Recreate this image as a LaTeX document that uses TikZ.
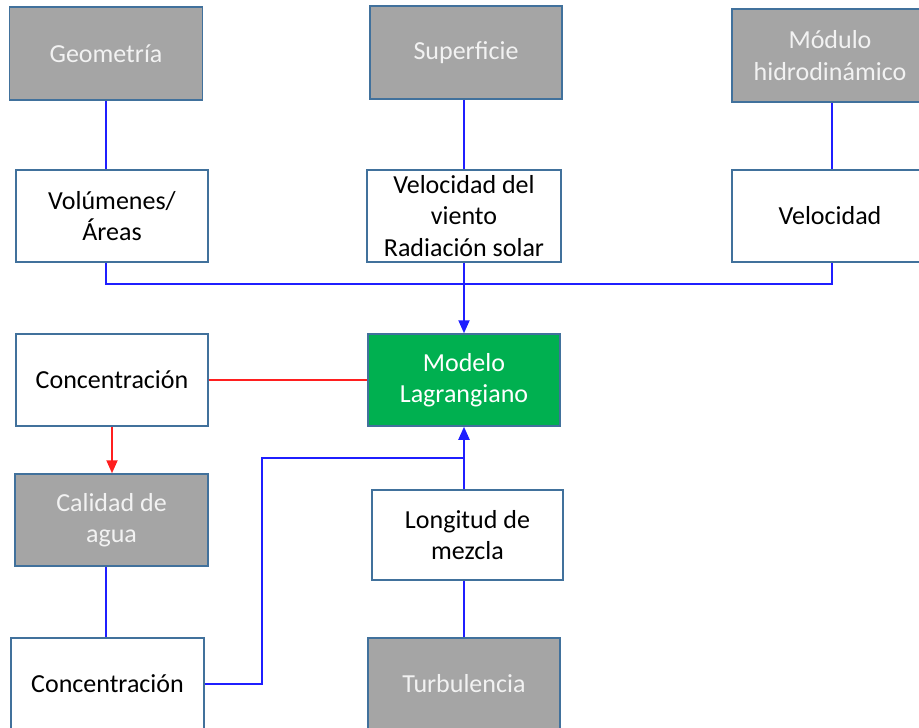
\documentclass[tikz,border=0pt]{standalone}
\usepackage{fontspec}
\setmainfont{Carlito}
\usetikzlibrary{arrows.meta}
\definecolor{cajagris}{HTML}{A5A5A5}
\definecolor{borde}{HTML}{41719C}
\definecolor{verde}{HTML}{00B050}
\definecolor{azul}{HTML}{1F1FFF}
\definecolor{rojo}{HTML}{FF1F1F}
\begin{document}
\begin{tikzpicture}[x=1pt,y=-1pt,
caja/.style={draw=borde, line width=1.5pt, minimum width=192pt, minimum height=92pt, align=center, inner sep=0pt, font=\fontsize{26}{31.5}\selectfont},
entrada/.style={caja, fill=cajagris, text=white!95!black},
dato/.style={caja, fill=white, text=black},
modelo/.style={caja, fill=verde, text=white},
linea/.style={draw=azul, line width=2pt},
flecha/.style={linea, -{Triangle[length=13pt,width=11pt]}},
lineaR/.style={draw=rojo, line width=2pt},
]
    \useasboundingbox (0,0) rectangle (919,728);
    \node[entrada, minimum width=193pt, minimum height=93pt](geo) at (106,53.5) {Geometría};
    \node[entrada, minimum height=93pt](sup) at (466,52.5) {Superficie};
    \node[entrada, minimum width=196pt, minimum height=93pt](mod) at (830,55.5) {Módulo\\hidrodinámico};
    \node[dato](vol) at (112,216) {Volúmenes/\\Áreas};
    \node[dato, minimum width=194pt](viento) at (464,216) {Velocidad del\\viento\\Radiación solar};
    \node[dato, minimum width=196pt](vel) at (830,216) {Velocidad};
    \node[dato](conc) at (112,380) {Concentración};
    \node[modelo](lag) at (464,380) {Modelo\\Lagrangiano};
    \node[entrada, minimum width=193pt](cal) at (111.5,520) {Calidad de\\agua};
    \node[dato, minimum width=191pt, minimum height=90pt](long) at (467.5,535) {Longitud de\\mezcla};
    \node[dato, minimum width=193pt](conc2) at (107.5,684) {Concentración};
    \node[entrada](turb) at (464,684) {Turbulencia};

    \coordinate (bus) at (464,284);
    \coordinate (codo) at (262,458);
    \coordinate (junta) at (464,458);

    \draw[linea] (geo.south) -- (geo.south |- vol.north);
    \draw[linea] (sup.south -| viento.north) -- (viento.north);
    \draw[linea] (mod.south -| 832,0) -- (vel.north -| 832,0);
    \draw[linea] (vol.south -| geo.south) |- (bus) -| (vel.south -| 832,0);
    \draw[flecha] (viento.south) -- (lag.north);
    \draw[lineaR] (conc.east) -- (lag.west);
    \draw[lineaR, -{Triangle[length=13pt,width=11pt]}] (conc.south) -- (cal.north -| conc.south);
    \draw[linea] (cal.south -| geo.south) -- (conc2.north -| geo.south);
    \draw[flecha] (conc2.east) -| (codo) -- (junta) -- (lag.south);
    \draw[linea] (long.north -| junta) -- (junta);
    \draw[linea] (turb.north) -- (long.south -| turb.north);
\end{tikzpicture}
\end{document}
